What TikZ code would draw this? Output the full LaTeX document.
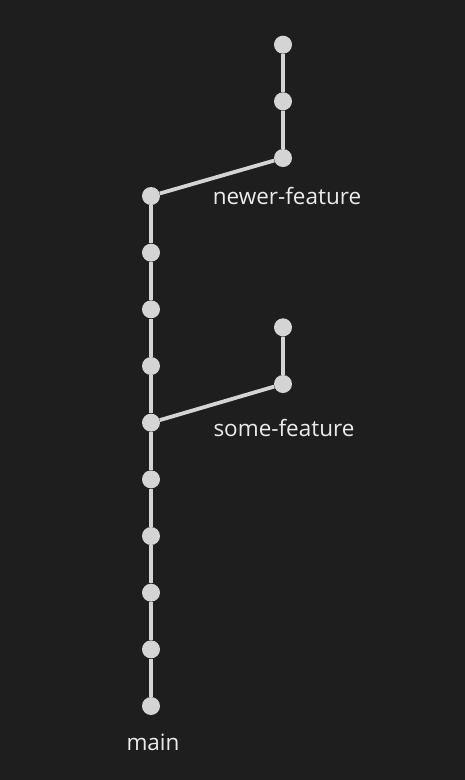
\documentclass[tikz,border=0pt]{standalone}
\usepackage{fontspec}
\setmainfont{Open Sans}
\usetikzlibrary{positioning}
\definecolor{bg}{HTML}{1E1E1E}
\definecolor{fg}{HTML}{D4D4D4}
\tikzset{
  commit/.style={circle,fill=fg,inner sep=0pt,minimum size=18pt},
  lbl/.style={text=white!92!black,font=\fontsize{22.5}{26}\selectfont,inner sep=0pt},
  branch/.style={draw=fg,line width=3.8pt}
}

\begin{document}
\begin{tikzpicture}[x=1pt,y=-1pt,node distance=56.67pt]
\fill[bg] (0,0) rectangle (465,780);
\useasboundingbox (0,0) rectangle (465,780);
\node[commit] at (151,196) (m1){};
\node[commit,below of=m1](m2){};
\node[commit,below of=m2](m3){};
\node[commit,below of=m3](m4){};
\node[commit,below of=m4](m5){};
\node[commit,below of=m5](m6){};
\node[commit,below of=m6](m7){};
\node[commit,below of=m7](m8){};
\node[commit,below of=m8](m9){};
\node[commit,below of=m9](m10){};
\node[commit] at (283,158) (n1){};
\node[commit,above of=n1](n2){};
\node[commit,above of=n2](n3){};
\node[commit] at (283,384) (s1){};
\node[commit,above of=s1](s2){};
\node[lbl] at (287,196) (nlbl){newer-feature};
\node[lbl] at (284,428) (slbl){some-feature};
\node[lbl] at (153,742) (mlbl){main};
\draw[branch] (m1) -- (m2) -- (m3) -- (m4) -- (m5) -- (m6) -- (m7) -- (m8) -- (m9) -- (m10);
\draw[branch] (m1) -- (n1) -- (n2) -- (n3);
\draw[branch] (m5) -- (s1) -- (s2);
\end{tikzpicture}
\end{document}
